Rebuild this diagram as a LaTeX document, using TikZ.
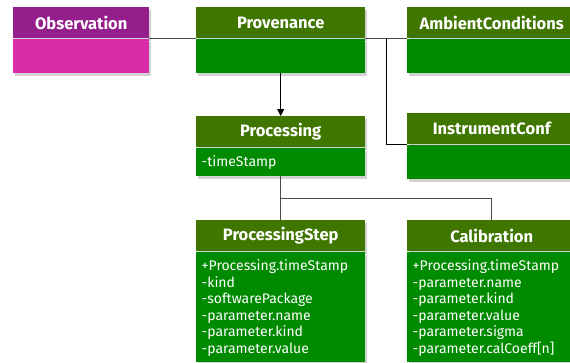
\documentclass[tikz,border=0pt]{standalone}
\usepackage{fontspec}
\setmainfont{Fira Sans}
\usetikzlibrary{positioning,shadows,arrows.meta}

\definecolor{headgreen}{HTML}{3F7600}
\definecolor{bodygreen}{HTML}{008A00}
\definecolor{headpurple}{HTML}{951E8D}
\definecolor{bodypink}{HTML}{DB2CA8}
\definecolor{linkgray}{HTML}{4A4A4A}

\tikzset{
  classhead/.style={fill=headgreen, text=white, minimum width=169pt,
    minimum height=31pt, inner sep=0pt, anchor=north west,
    font=\fontsize{16.5}{19}\selectfont\bfseries,
    drop shadow={shadow xshift=2pt, shadow yshift=-3pt, opacity=0.35}},
  classbody/.style={fill=bodygreen, text=white, text width=158pt,
    inner xsep=5.5pt, inner ysep=5pt, align=left,
    font=\fontsize{14}{16.5}\selectfont,
    execute at begin node={\rule{0pt}{14pt}},
    execute at end node={\rule[-4pt]{0pt}{4pt}},
    drop shadow={shadow xshift=2pt, shadow yshift=-3pt, opacity=0.35}},
  link/.style={draw=linkgray, line width=0.8pt},
}

\begin{document}
\begin{tikzpicture}[x=1pt, y=-1pt]
    \clip (0, 0) rectangle (570, 362);
    \fill[white] (0, 0) rectangle (570, 362);

    % Observation
    \node[classhead, fill=headpurple, minimum width=136pt] (obshead) at (13, 7) {Observation};
    \node[classbody, fill=bodypink, text width=125pt, minimum height=34pt,
      below=0pt of obshead] (obsbody) {};

    % Provenance
    \node[classhead] (provhead) at (196, 7) {Provenance};
    \node[classbody, minimum height=34pt, below=0pt of provhead] (provbody) {};

    % Conditions et instrument
    \node[classhead] (ambhead) at (407, 7) {AmbientConditions};
    \node[classbody, minimum height=34pt, below=0pt of ambhead] (ambbody) {};
    \node[classhead] (instrhead) at (407, 113) {InstrumentConf};
    \node[classbody, minimum height=34pt, below=0pt of instrhead] (instrbody) {};

    % Processing
    \node[classhead] (prochead) at (196, 116) {Processing};
    \node[classbody, below=0pt of prochead] (procbody) {-timeStamp};

    % Etapes
    \node[classhead] (stephead) at (196, 220) {ProcessingStep};
    \node[classbody, below=0pt of stephead] (stepbody)
    {+Processing.timeStamp\\-kind\\-softwarePackage\\-parameter.name\\
      -parameter.kind\\-parameter.value};
    \node[classhead] (calibhead) at (407, 220) {Calibration};
    \node[classbody, below=0pt of calibhead] (calibbody)
    {+Processing.timeStamp\\-parameter.name\\-parameter.kind\\
      -parameter.value\\-parameter.sigma\\-parameter.calCoeff[n]};

    % Liens
    \draw[link] (obshead.south east) -- (provhead.south west);
    \draw[link] (provhead.south east) -- (ambhead.south west);
    \coordinate (split) at (386, 38);
    \draw[link, draw=black] (split) |- (instrhead.south west);
    \draw[black, line width=0.8pt, -{Triangle[length=7pt, width=7pt]}]
    (provbody.south) -- (prochead.north);
    \draw[link] (procbody.south) -- (stephead.north);
    \coordinate (fork) at (281, 198);
    \draw[link] (fork) -| (calibhead.north);
  \end{tikzpicture}
\end{document}
